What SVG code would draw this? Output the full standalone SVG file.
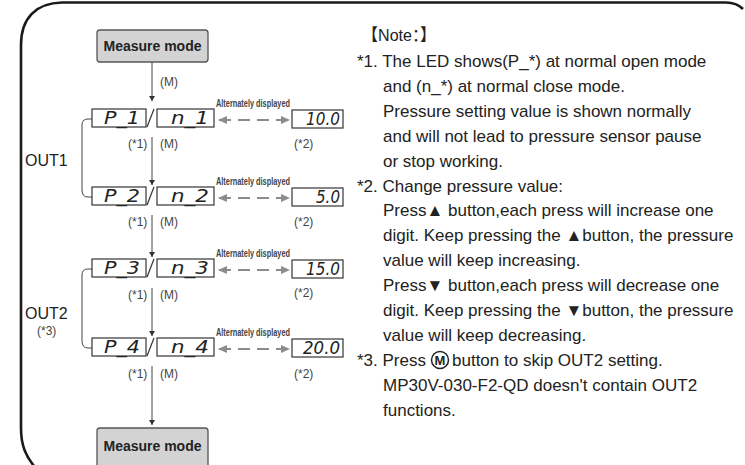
<svg xmlns="http://www.w3.org/2000/svg" width="745" height="465" viewBox="0 0 745 465">
<defs>
<style>
.mm rect{fill:#d3d3d3;stroke:#555;stroke-width:1.3}
.mm text{font-family:"Liberation Sans",Arial,sans-serif;font-weight:bold;font-size:14px;fill:#222}
.led rect{fill:#fff;stroke:#444;stroke-width:1.3}
.led text{font-family:"DejaVu Sans",sans-serif;font-weight:200;font-size:18px;fill:#222;font-style:italic}
.lbl{font-family:"Liberation Sans",Arial,sans-serif;font-size:12px;fill:#444}
.alt{font-family:"Liberation Sans",Arial,sans-serif;font-size:10px;font-weight:bold;fill:#444}
.out{font-family:"Liberation Sans",Arial,sans-serif;font-size:16px;fill:#222}
.note{font-family:"Liberation Sans",Arial,"Noto Sans CJK SC",sans-serif;font-size:17px;fill:#222}
.flow{fill:none;stroke:#444;stroke-width:1}
.alt-arr{fill:none;stroke:#8c8c8c;stroke-width:2.2;stroke-dasharray:12 7}
.brk{fill:none;stroke:#444;stroke-width:1}
</style>
<marker id="ah" markerWidth="6" markerHeight="6" refX="5" refY="3" orient="auto" markerUnits="userSpaceOnUse">
<path d="M0,0 L5,3 L0,6 Z" fill="#333"/>
</marker>
<marker id="ga" markerWidth="9" markerHeight="8" refX="8" refY="4" orient="auto-start-reverse" markerUnits="userSpaceOnUse">
<path d="M0,0 L9,4 L0,8 Z" fill="#8c8c8c"/>
</marker>
</defs>
<rect width="745" height="465" fill="#fff"/>
<path d="M34,466 C26,456 21,446 21,428 L21,45 C21,18 36,3 62,2.5 L726,2.5 C734,2.5 739,5 743,9" fill="none" stroke="#1a1a1a" stroke-width="2.6"/>

<g id="connectors">
<line class="flow" x1="152" y1="62" x2="152" y2="101" marker-end="url(#ah)"/>
<line class="flow" x1="152" y1="137" x2="152" y2="185" marker-end="url(#ah)"/>
<line class="flow" x1="152" y1="215" x2="152" y2="257" marker-end="url(#ah)"/>
<line class="flow" x1="152" y1="288" x2="152" y2="336" marker-end="url(#ah)"/>
<line class="flow" x1="152" y1="366" x2="152" y2="425" marker-end="url(#ah)"/>
<path class="brk" d="M92,119 H88 Q82,119 82,125 V190 Q82,197 88,197 H92"/>
<path class="brk" d="M92,269 H88 Q82,269 82,275 V341 Q82,348 88,348 H92"/>
<line class="alt-arr" x1="219" y1="120" x2="289" y2="120" marker-start="url(#ga)" marker-end="url(#ga)"/>
<line class="alt-arr" x1="219" y1="198" x2="289" y2="198" marker-start="url(#ga)" marker-end="url(#ga)"/>
<line class="alt-arr" x1="219" y1="270" x2="289" y2="270" marker-start="url(#ga)" marker-end="url(#ga)"/>
<line class="alt-arr" x1="219" y1="349" x2="289" y2="349" marker-start="url(#ga)" marker-end="url(#ga)"/>
</g>

<g id="measure-top" class="mm"><rect x="97" y="30" width="111" height="32" rx="3"/><text x="152.5" y="51" text-anchor="middle" textLength="98" lengthAdjust="spacingAndGlyphs">Measure mode</text></g>
<text class="lbl" x="160" y="86">(M)</text>

<g id="row1">
<g id="p1" class="led"><rect x="92" y="109" width="54" height="18"/><text x="104" y="123.5" textLength="36" lengthAdjust="spacingAndGlyphs">P_1</text></g>
<line x1="147" y1="127" x2="154" y2="109" stroke="#333" stroke-width="1.2"/>
<g id="n1" class="led"><rect x="157" y="109" width="57" height="18"/><text x="171" y="123.5" textLength="38" lengthAdjust="spacingAndGlyphs">n_1</text></g>
<text class="alt" x="216" y="107" textLength="74" lengthAdjust="spacingAndGlyphs">Alternately displayed</text>
<g id="v1" class="led"><rect x="292" y="110" width="51" height="18"/><text x="306" y="125" textLength="34" lengthAdjust="spacingAndGlyphs">10.0</text></g>
<text class="lbl" x="128" y="148">(*1)</text><text class="lbl" x="160" y="148">(M)</text><text class="lbl" x="294" y="148">(*2)</text>
</g>

<g id="row2">
<g id="p2" class="led"><rect x="92" y="187" width="54" height="18"/><text x="104" y="201.5" textLength="36" lengthAdjust="spacingAndGlyphs">P_2</text></g>
<line x1="147" y1="205" x2="154" y2="187" stroke="#333" stroke-width="1.2"/>
<g id="n2" class="led"><rect x="157" y="187" width="57" height="18"/><text x="171" y="201.5" textLength="38" lengthAdjust="spacingAndGlyphs">n_2</text></g>
<text class="alt" x="216" y="185" textLength="74" lengthAdjust="spacingAndGlyphs">Alternately displayed</text>
<g id="v2" class="led"><rect x="292" y="188" width="51" height="18"/><text x="316" y="203" textLength="24" lengthAdjust="spacingAndGlyphs">5.0</text></g>
<text class="lbl" x="128" y="226">(*1)</text><text class="lbl" x="160" y="226">(M)</text><text class="lbl" x="294" y="226">(*2)</text>
</g>

<g id="row3">
<g id="p3" class="led"><rect x="92" y="259" width="54" height="18"/><text x="104" y="273.5" textLength="36" lengthAdjust="spacingAndGlyphs">P_3</text></g>
<line x1="147" y1="277" x2="154" y2="259" stroke="#333" stroke-width="1.2"/>
<g id="n3" class="led"><rect x="157" y="259" width="57" height="18"/><text x="171" y="273.5" textLength="38" lengthAdjust="spacingAndGlyphs">n_3</text></g>
<text class="alt" x="216" y="257" textLength="74" lengthAdjust="spacingAndGlyphs">Alternately displayed</text>
<g id="v3" class="led"><rect x="292" y="260" width="51" height="18"/><text x="306" y="275" textLength="34" lengthAdjust="spacingAndGlyphs">15.0</text></g>
<text class="lbl" x="128" y="299">(*1)</text><text class="lbl" x="160" y="299">(M)</text><text class="lbl" x="294" y="297">(*2)</text>
</g>

<g id="row4">
<g id="p4" class="led"><rect x="92" y="338" width="54" height="18"/><text x="104" y="352.5" textLength="36" lengthAdjust="spacingAndGlyphs">P_4</text></g>
<line x1="147" y1="356" x2="154" y2="338" stroke="#333" stroke-width="1.2"/>
<g id="n4" class="led"><rect x="157" y="338" width="57" height="18"/><text x="171" y="352.5" textLength="38" lengthAdjust="spacingAndGlyphs">n_4</text></g>
<text class="alt" x="216" y="336" textLength="74" lengthAdjust="spacingAndGlyphs">Alternately displayed</text>
<g id="v4" class="led"><rect x="292" y="339" width="51" height="18"/><text x="303" y="354" textLength="37" lengthAdjust="spacingAndGlyphs">20.0</text></g>
<text class="lbl" x="128" y="378">(*1)</text><text class="lbl" x="160" y="378">(M)</text><text class="lbl" x="294" y="378">(*2)</text>
</g>

<g id="measure-bottom" class="mm"><rect x="97" y="428" width="111" height="45" rx="3"/><text x="152.5" y="451" text-anchor="middle" textLength="98" lengthAdjust="spacingAndGlyphs">Measure mode</text></g>

<g id="out1"><text class="out" x="25" y="166">OUT1</text></g>
<g id="out2"><text class="out" x="25" y="319">OUT2</text><text class="lbl" x="37" y="335">(*3)</text></g>

<g id="notes">
<text class="note" x="362" y="41" textLength="74" lengthAdjust="spacingAndGlyphs">【Note：】</text>
<text class="note" x="357" y="67">*1. The LED shows(P_*) at normal open mode</text>
<text class="note" x="383" y="92">and (n_*) at normal close mode.</text>
<text class="note" x="383" y="117">Pressure setting value is shown normally</text>
<text class="note" x="383" y="142">and will not lead to pressure sensor pause</text>
<text class="note" x="383" y="167">or stop working.</text>
<text class="note" x="357" y="192">*2. Change pressure value:</text>
<text class="note" x="383" y="216">Press▲ button,each press will increase one</text>
<text class="note" x="383" y="241">digit. Keep pressing the ▲button, the pressure</text>
<text class="note" x="383" y="266">value will keep increasing.</text>
<text class="note" x="383" y="291">Press▼ button,each press will decrease one</text>
<text class="note" x="383" y="316">digit. Keep pressing the ▼button, the pressure</text>
<text class="note" x="383" y="341">value will keep decreasing.</text>
<text class="note" x="357" y="366">*3. Press</text>
<circle cx="440" cy="360" r="8.5" fill="none" stroke="#222" stroke-width="1.5"/>
<text x="440" y="365" text-anchor="middle" style="font-family:'Liberation Sans',Arial,sans-serif;font-weight:bold;font-size:13px;fill:#222">M</text>
<text class="note" x="452" y="366">button to skip OUT2 setting.</text>
<text class="note" x="383" y="391">MP30V-030-F2-QD doesn't contain OUT2</text>
<text class="note" x="383" y="416">functions.</text>
</g>
</svg>
